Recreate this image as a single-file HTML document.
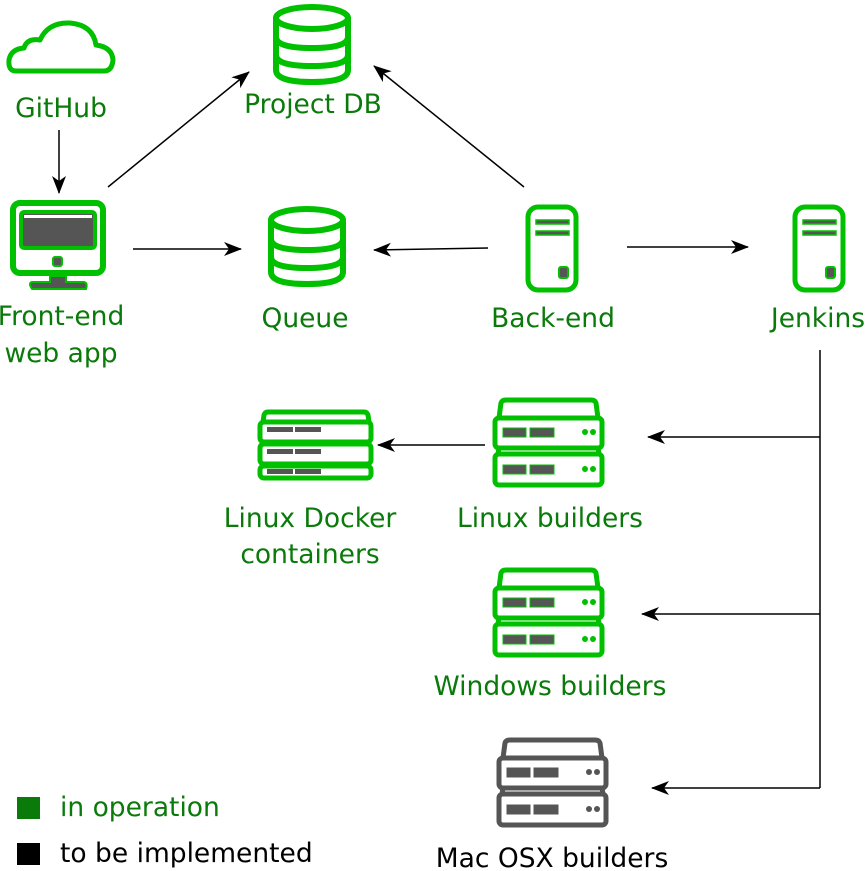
<!DOCTYPE html>
<html><head><meta charset="utf-8"><style>
html,body{margin:0;padding:0;background:#fff;}
svg{display:block;}
text{font-family:"DejaVu Sans","Liberation Sans",sans-serif;font-size:26.5px;}
.g{fill:#0a7a0a;}
</style></head><body>
<svg width="866" height="871" viewBox="0 0 866 871" xmlns="http://www.w3.org/2000/svg">
<defs>
<marker id="a" markerWidth="18" markerHeight="14" refX="17" refY="7" orient="auto" markerUnits="userSpaceOnUse">
<path d="M0,0 L18,7 L0,14 L5,7 z" fill="#000"/></marker>
<g id="srv">
<path d="M6,20 L8,5 Q9,2 13,2 L98,2 Q102,2 103,5 L105,20" fill="none" stroke-width="5" stroke-linejoin="round"/>
<rect x="2" y="20" width="107" height="30" rx="4" fill="#fff" stroke-width="5"/>
<path d="M6,50 L5,56 M105,50 L106,56" fill="none" stroke-width="5"/>
<rect x="2" y="56" width="107" height="31" rx="4" fill="#fff" stroke-width="5"/>
<rect x="10" y="30" width="23" height="9" fill="#555"/><rect x="37" y="30" width="24" height="9" fill="#555"/>
<rect x="10" y="67" width="23" height="9" fill="#555"/><rect x="37" y="67" width="24" height="9" fill="#555"/>
<circle cx="92" cy="34" r="3" stroke="none"/><circle cx="100" cy="34" r="3" stroke="none"/>
<circle cx="92" cy="71" r="3" stroke="none"/><circle cx="100" cy="71" r="3" stroke="none"/>
</g>
<g id="cyl" fill="none" stroke="#00c000" stroke-width="6">
<ellipse cx="38" cy="14" rx="36" ry="11"/>
<path d="M2,14 V66 Q2,78 38,78 Q74,78 74,66 V14"/>
<path d="M2,33 Q2,44 38,44 Q74,44 74,33"/>
<path d="M2,51 Q2,62 38,62 Q74,62 74,51"/>
</g>
<g id="tow">
<rect x="2" y="2" width="48" height="83" rx="10" fill="none" stroke="#00c000" stroke-width="5"/>
<rect x="10" y="15" width="33" height="4" fill="#555" stroke="#00c000" stroke-width="1.5"/>
<rect x="10" y="26" width="33" height="4" fill="#555" stroke="#00c000" stroke-width="1.5"/>
<rect x="33" y="62" width="9" height="11" rx="2" fill="#555" stroke="#00c000" stroke-width="2"/>
</g>
</defs>

<!-- cloud -->
<path d="M16,71 Q8,71 9,60 Q11,49 24,48 Q27,38 40,40 Q48,22 70,23 Q93,25 96,45 Q112,47 113,60 Q112,71 104,71 Z" fill="none" stroke="#00c000" stroke-width="5" stroke-linejoin="round"/>
<text x="61" y="117" text-anchor="middle" class="g">GitHub</text>
<line x1="59" y1="130" x2="59" y2="193" stroke="#000" stroke-width="1.5" marker-end="url(#a)"/>

<!-- monitor -->
<rect x="13" y="203" width="90" height="70" rx="7" fill="none" stroke="#00c000" stroke-width="6"/>
<rect x="21" y="212" width="74" height="36" rx="3" fill="#555" stroke="#00c000" stroke-width="4"/>
<rect x="24" y="215" width="68" height="3" fill="#fff"/>
<rect x="53" y="257" width="9" height="9" rx="2" fill="#555" stroke="#00c000" stroke-width="2"/>
<path d="M50,276 H66 V282 H84 Q88,283 86,289 H32 Q28,283 32,282 H50 Z" fill="#555" stroke="#00c000" stroke-width="2"/>
<text x="61" y="325" text-anchor="middle" class="g">Front-end</text>
<text x="61" y="362" text-anchor="middle" class="g">web app</text>

<use href="#cyl" x="274" y="4"/>
<text x="313" y="113" text-anchor="middle" class="g">Project DB</text>
<use href="#cyl" x="269" y="206"/>
<text x="305" y="327" text-anchor="middle" class="g">Queue</text>

<use href="#tow" x="526" y="205"/>
<text x="553" y="327" text-anchor="middle" class="g">Back-end</text>
<use href="#tow" x="793" y="205"/>
<text x="818" y="327" text-anchor="middle" class="g">Jenkins</text>

<g stroke="#000" stroke-width="1.5" fill="none">
<line x1="108" y1="187" x2="249" y2="72" marker-end="url(#a)"/>
<line x1="524" y1="187" x2="374" y2="66" marker-end="url(#a)"/>
<line x1="133" y1="249" x2="241" y2="249" marker-end="url(#a)"/>
<line x1="488" y1="248" x2="374" y2="250" marker-end="url(#a)"/>
<line x1="627" y1="247" x2="748" y2="247" marker-end="url(#a)"/>
<line x1="820" y1="350" x2="820" y2="788"/>
<line x1="820" y1="437" x2="648" y2="437" marker-end="url(#a)"/>
<line x1="820" y1="614" x2="642" y2="614" marker-end="url(#a)"/>
<line x1="820" y1="788" x2="652" y2="788" marker-end="url(#a)"/>
<line x1="485" y1="445" x2="378" y2="445" marker-end="url(#a)"/>
</g>

<!-- docker containers -->
<g stroke="#00c000" stroke-width="5" fill="#fff">
<path d="M263,422 L264,415 Q265,412 268,412 L364,412 Q367,412 368,415 L369,422" fill="none"/>
<rect x="260" y="422" width="111" height="20" rx="4"/>
<rect x="260" y="444" width="111" height="20" rx="4"/>
<rect x="260" y="466" width="111" height="12" rx="4"/>
</g>
<g fill="#555">
<rect x="267" y="427" width="26" height="5"/><rect x="295" y="427" width="26" height="5"/>
<rect x="267" y="449" width="26" height="5"/><rect x="295" y="449" width="26" height="5"/>
<rect x="267" y="469" width="26" height="5"/><rect x="295" y="469" width="26" height="5"/>
</g>
<text x="310" y="527" text-anchor="middle" class="g">Linux Docker</text>
<text x="310" y="563" text-anchor="middle" class="g">containers</text>

<use href="#srv" x="493" y="398" stroke="#00c000" fill="#00c000"/>
<text x="550" y="527" text-anchor="middle" class="g">Linux builders</text>
<use href="#srv" x="493" y="568" stroke="#00c000" fill="#00c000"/>
<text x="550" y="695" text-anchor="middle" class="g">Windows builders</text>
<use href="#srv" x="497" y="738" stroke="#555" fill="#555"/>
<text x="552" y="867" text-anchor="middle" fill="#000">Mac OSX builders</text>

<rect x="17" y="797" width="23" height="22" fill="#0a7a0a"/>
<text x="60" y="816" class="g">in operation</text>
<rect x="17" y="843" width="23" height="22" fill="#000"/>
<text x="60" y="862" fill="#000">to be implemented</text>
</svg>
</body></html>
